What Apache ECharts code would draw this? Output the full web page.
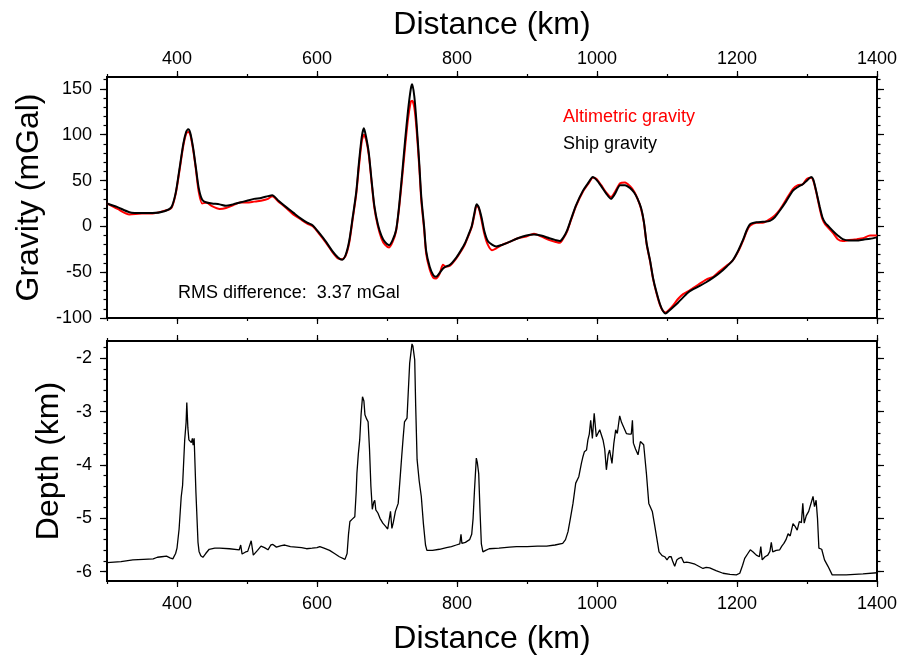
<!DOCTYPE html>
<html>
<head>
<meta charset="utf-8">
<title>Gravity and depth profile</title>
<script src="https://cdn.jsdelivr.net/npm/echarts@6/dist/echarts.min.js"></script>
<style>
  html, body { margin: 0; padding: 0; background: #fff; }
  #chart { width: 900px; height: 657px; }
</style>
</head>
<body>
<div id="chart"></div>
<script>
// Distance along the track (km) at which the gravity profiles are sampled
const gravityKm = [
  300, 315, 332, 350, 365, 382, 392, 398, 403, 409, 413, 416, 419, 423, 427, 431, 436, 442, 450, 461,
  470, 480, 490, 500, 510, 520, 530, 536, 545, 556, 566, 576, 586, 594, 604, 613, 622, 630, 636, 641,
  646, 651, 656, 660, 664, 667, 670, 674, 678, 682, 687, 692, 697, 703, 708, 713, 717, 721, 726, 730,
  734, 736, 739, 742, 746, 749, 753, 756, 761, 766, 770, 775, 780, 784, 790, 799, 805, 811, 817, 821,
  825, 828, 831, 835, 839, 844, 850, 856, 865, 875, 887, 899, 910, 920, 932, 941, 947, 952, 957, 963,
  970, 980, 988, 994, 999, 1006, 1013, 1020, 1026, 1033, 1040, 1047, 1053, 1058, 1063, 1067, 1071, 1076, 1080, 1085,
  1090, 1094, 1098, 1103, 1109, 1116, 1123, 1132, 1144, 1156, 1166, 1175, 1185, 1194, 1202, 1209, 1214, 1219, 1228, 1237,
  1247, 1254, 1261, 1270, 1280, 1287, 1294, 1300, 1306, 1309, 1313, 1318, 1322, 1326, 1331, 1337, 1344, 1351, 1360, 1371,
  1380, 1390, 1400
];

// Ship gravity (mGal)
const shipGravity = [
  25, 21, 15.5, 14.5, 14.5, 16.5, 21, 36, 60, 90, 103, 106, 102, 86, 64, 42, 29, 26, 25, 24,
  22.5, 24, 26, 28, 30, 31, 33, 34, 28, 21, 15, 9, 4, 1, -8, -17, -27, -34, -36.5, -31,
  -16, 10, 37, 70, 98, 107, 98, 80, 50, 22, 2, -10, -17, -20.5, -15, -4, 20, 52, 95, 126,
  150, 155, 142, 115, 70, 32, 0, -27, -44, -53, -55, -51, -46, -44, -42, -34, -27, -19, -8, 0,
  15, 24, 21, 10, -5, -16, -20, -22, -20, -17, -13, -10, -9, -10, -13, -15, -16, -12, -5, 8,
  23, 39, 48, 54, 51, 44, 36, 30, 36, 45, 45, 42, 37, 30, 20, 5, -19, -38, -56, -72,
  -85, -92, -95, -92, -88, -83, -77.5, -71, -66, -61, -56, -51, -44, -37, -26, -14, -4, 2.5, 4.5, 5,
  6, 10, 17, 27, 39, 43, 46, 50, 54, 51, 39, 22, 10, 4, 0, -5, -10, -14, -15.5, -15.5,
  -14.5, -13.5, -12
];

// Altimetric (satellite-derived) gravity (mGal)
const altimetricGravity = [
  25, 19, 13, 14, 14, 17, 20, 35, 58, 88, 101, 103, 100, 84, 62, 38, 25, 26, 22, 19,
  20, 23, 26, 26, 27, 28, 30, 33, 27, 20, 13, 8, 3, 0, -9, -18, -28, -35, -36, -32,
  -18, 8, 35, 66, 93, 100, 95, 78, 48, 20, 0, -13, -20, -23, -17, -5, 18, 48, 88, 117,
  136, 137, 130, 108, 66, 28, -3, -30, -47, -56, -57, -52, -42, -44, -43, -35, -28, -20, -9, -1,
  13, 23, 20, 7, -8, -20, -26, -24, -20, -17, -13, -11, -8, -11, -15, -17, -18, -13, -6, 7,
  22, 38, 47, 53, 52, 45, 37, 32, 38, 47, 48, 44, 38, 30, 19, 4, -20, -39, -57, -73,
  -86, -92, -94, -91, -86, -79, -74, -70, -64, -58, -55, -49, -43, -37, -27, -15, -5, 1, 4, 4,
  8, 12, 18, 29, 41, 45, 46, 52, 53, 50, 38, 20, 8, 2, -2, -7, -14, -16, -15, -14,
  -13, -10, -10
];

// Bathymetry along the same track
const depthKm = [
  300, 320, 337, 352, 366, 372, 378, 385, 390, 394, 398, 400, 403, 406, 408, 411, 413, 414, 415.5, 417,
  419, 420.5, 422, 423, 424.5, 427, 430, 431.5, 434, 437, 441, 446, 454, 461, 475, 489, 491, 493, 498, 501,
  506, 509, 515, 520, 525, 530, 534, 537, 542, 549, 554, 562, 570, 578, 585, 593, 600, 604, 610, 618,
  625, 632, 640, 643, 645, 647, 650, 654, 656, 657, 659, 661, 663, 665, 667, 668.5, 671, 673, 675, 677,
  679, 681, 682.5, 684, 687, 690, 694, 698, 701, 703, 705, 707, 709, 712, 716, 719, 721, 723, 725, 728.6,
  730.5, 732.4, 735.7, 737, 739.6, 741, 743, 746, 749, 752, 755, 757, 765, 775, 785, 792, 799, 804, 805.7, 807,
  812, 818, 821, 823, 825, 827.6, 829, 831, 833, 834.8, 837, 841, 846, 860, 875, 885, 900, 915, 928, 940,
  951, 955, 958.6, 962, 965.7, 969.6, 974, 977.7, 980, 982, 985, 987, 989, 991, 993.4, 996, 999, 1003.9, 1008.6, 1011,
  1013.4, 1016, 1018, 1021.4, 1024, 1026.7, 1029, 1032.4, 1035, 1037, 1042, 1046, 1049, 1050.6, 1052, 1055, 1058.6, 1062, 1066.7, 1070.6,
  1074, 1079, 1082, 1085, 1088.6, 1093, 1096.7, 1100, 1103, 1106, 1108, 1111, 1114, 1117, 1120.6, 1124, 1128, 1132, 1140, 1151.4,
  1156, 1161, 1170, 1180, 1190, 1199, 1204, 1208, 1211, 1213, 1216, 1219, 1223, 1227.6, 1232, 1234, 1236, 1240, 1244, 1247,
  1249, 1251, 1256, 1261, 1264, 1267, 1270, 1273, 1276, 1280, 1283, 1286, 1289, 1292, 1294, 1296, 1299, 1302.4, 1305, 1308.6,
  1310.7, 1313, 1315, 1317, 1321, 1325, 1330, 1336, 1356, 1380, 1400
];

// Depth (km)
const depth = [
  -5.83, -5.81, -5.78, -5.77, -5.76, -5.73, -5.72, -5.71, -5.74, -5.76, -5.66, -5.56, -5.2, -4.6, -4.38, -3.53, -3.2, -2.83, -3.3, -3.53,
  -3.5, -3.58, -3.5, -3.63, -3.5, -4.5, -5.45, -5.62, -5.7, -5.73, -5.66, -5.58, -5.56, -5.56, -5.57, -5.59, -5.5, -5.67, -5.63, -5.62,
  -5.42, -5.69, -5.6, -5.52, -5.55, -5.59, -5.5, -5.49, -5.54, -5.51, -5.5, -5.53, -5.54, -5.55, -5.57, -5.56, -5.55, -5.53, -5.56, -5.6,
  -5.66, -5.72, -5.77, -5.66, -5.3, -5.06, -5.02, -4.97, -4.5, -4.16, -3.8, -3.53, -3.05, -2.72, -2.8, -3.06, -3.14, -3.19, -3.7, -4.4,
  -4.83, -4.7, -4.66, -4.84, -4.9, -5.0, -5.09, -5.15, -5.2, -5.19, -4.87, -5.19, -5.08, -4.87, -4.72, -4.2, -3.84, -3.5, -3.19, -3.12,
  -2.6, -2.09, -1.73, -1.77, -2.03, -2.9, -3.9, -4.3, -4.59, -5.1, -5.5, -5.6, -5.6, -5.58, -5.55, -5.53, -5.5, -5.48, -5.3, -5.47,
  -5.45, -5.4, -5.3, -5.0, -4.47, -3.87, -3.95, -4.16, -4.9, -5.48, -5.63, -5.6, -5.57, -5.56, -5.54, -5.53, -5.53, -5.52, -5.52, -5.5,
  -5.47, -5.4, -5.25, -5.0, -4.72, -4.34, -4.22, -3.97, -3.84, -3.75, -3.72, -3.53, -3.42, -3.16, -3.5, -3.03, -3.47, -3.34, -3.53, -3.7,
  -4.09, -3.8, -3.72, -3.97, -3.6, -3.34, -3.41, -3.08, -3.2, -3.22, -3.41, -3.42, -3.42, -3.16, -3.59, -3.7, -3.81, -3.56, -3.62, -4.16,
  -4.72, -4.87, -5.1, -5.34, -5.63, -5.7, -5.72, -5.78, -5.72, -5.72, -5.8, -5.9, -5.78, -5.75, -5.73, -5.83, -5.82, -5.83, -5.86, -5.94,
  -5.92, -5.93, -5.98, -6.03, -6.05, -6.06, -6.03, -5.88, -5.75, -5.78, -5.65, -5.59, -5.63, -5.69, -5.72, -5.53, -5.78, -5.72, -5.69, -5.62,
  -5.45, -5.63, -5.6, -5.59, -5.52, -5.47, -5.4, -5.29, -5.33, -5.1, -5.15, -5.22, -5.06, -5.08, -4.72, -5.09, -4.95, -4.87, -4.84, -4.59,
  -4.78, -4.66, -5.0, -5.56, -5.58, -5.78, -5.9, -6.06, -6.06, -6.04, -6.02
];

// Tick positions
const distanceLabels = [400, 600, 800, 1000, 1200, 1400];
const distanceMinor = [300, 400, 500, 600, 700, 800, 900, 1000, 1100, 1200, 1300, 1400];
const gravityTicks = [-100, -50, 0, 50, 100, 150];
const gravityMinor = [-100, -90, -80, -70, -60, -50, -40, -30, -20, -10, 0, 10, 20, 30, 40, 50, 60, 70, 80, 90, 100, 110, 120, 130, 140, 150, 160];
const depthTicks = [-6, -5, -4, -3, -2];
const depthMinor = [-6, -5.8, -5.6, -5.4, -5.2, -5, -4.8, -4.6, -4.4, -4.2, -4, -3.8, -3.6, -3.4, -3.2, -3, -2.8, -2.6, -2.4, -2.2, -2, -1.8];

const rmsText = 'RMS difference:  3.37 mGal';

const FONT = 'Liberation Sans, Arial, Helvetica, sans-serif';
const INK = '#000';

function pairs(xs, ys) {
  return xs.map((x, i) => [x, ys[i]]);
}

// An axis that only draws ticks (and optionally labels) at the given values
function tickAxis(base, values, len, withLabels) {
  return Object.assign({
    type: 'value',
    axisLine: { show: false, onZero: false },
    splitLine: { show: false },
    axisTick: {
      show: true, inside: false, length: len, customValues: values,
      lineStyle: { color: INK, width: 1.2 }
    },
    axisLabel: withLabels
      ? { show: true, customValues: values, color: INK, fontFamily: FONT, fontSize: 18, margin: 12,
          formatter: (v) => String(v) }
      : { show: false },
    axisPointer: { show: false }
  }, base);
}

const xBase = (grid, pos) => ({ gridIndex: grid, position: pos, min: 300, max: 1400 });
const gBase = (pos) => ({ gridIndex: 0, position: pos, min: -100, max: 163 });
const dBase = (pos) => ({ gridIndex: 1, position: pos, min: -6.175, max: -1.675 });

const xAxes = [
  // top panel, top edge (labelled)
  tickAxis(Object.assign(xBase(0, 'top'), {
    name: 'Distance (km)', nameLocation: 'middle', nameGap: 36,
    nameTextStyle: { color: INK, fontFamily: FONT, fontSize: 32 }
  }), distanceLabels, 6, true),
  tickAxis(xBase(0, 'top'), distanceMinor, 3, false),
  // top panel, bottom edge
  tickAxis(xBase(0, 'bottom'), distanceLabels, 6, false),
  tickAxis(xBase(0, 'bottom'), distanceMinor, 3, false),
  // bottom panel, top edge
  tickAxis(xBase(1, 'top'), distanceLabels, 6, false),
  tickAxis(xBase(1, 'top'), distanceMinor, 3, false),
  // bottom panel, bottom edge (labelled)
  tickAxis(Object.assign(xBase(1, 'bottom'), {
    name: 'Distance (km)', nameLocation: 'middle', nameGap: 42,
    nameTextStyle: { color: INK, fontFamily: FONT, fontSize: 32 }
  }), distanceLabels, 6, true),
  tickAxis(xBase(1, 'bottom'), distanceMinor, 3, false)
];
xAxes[0].axisLabel.margin = 9;
xAxes[6].axisLabel.margin = 14;

const yAxes = [
  tickAxis(Object.assign(gBase('left'), {
    name: 'Gravity (mGal)', nameLocation: 'middle', nameGap: 62,
    nameTextStyle: { color: INK, fontFamily: FONT, fontSize: 32 }
  }), gravityTicks, 7, true),
  tickAxis(gBase('left'), gravityMinor, 3.5, false),
  tickAxis(gBase('right'), gravityTicks, 7, false),
  tickAxis(gBase('right'), gravityMinor, 3.5, false),
  tickAxis(Object.assign(dBase('left'), {
    name: 'Depth (km)', nameLocation: 'middle', nameGap: 41,
    nameTextStyle: { color: INK, fontFamily: FONT, fontSize: 32 }
  }), depthTicks, 7, true),
  tickAxis(dBase('left'), depthMinor, 3.5, false),
  tickAxis(dBase('right'), depthTicks, 7, false),
  tickAxis(dBase('right'), depthMinor, 3.5, false)
];
yAxes[0].axisLabel.margin = 15;
yAxes[4].axisLabel.margin = 15;

const chart = echarts.init(document.getElementById('chart'), null, { renderer: 'canvas' });

chart.setOption({
  animation: false,
  backgroundColor: '#fff',
  textStyle: { fontFamily: FONT },
  grid: [
    { left: 107, right: 23, top: 77, height: 241, show: true, borderColor: INK, borderWidth: 2,
      backgroundColor: 'transparent', containLabel: false, outerBoundsMode: 'none' },
    { left: 107, right: 23, top: 341, height: 240, show: true, borderColor: INK, borderWidth: 2,
      backgroundColor: 'transparent', containLabel: false, outerBoundsMode: 'none' }
  ],
  xAxis: xAxes,
  yAxis: yAxes,
  legend: {
    data: [
      { name: 'Altimetric gravity', textStyle: { color: '#ff0000' } },
      { name: 'Ship gravity', textStyle: { color: INK } }
    ],
    icon: 'none',
    orient: 'vertical',
    left: 558,
    top: 108,
    padding: 0,
    itemWidth: 0,
    itemHeight: 18,
    itemGap: 9,
    selectedMode: false,
    textStyle: { fontFamily: FONT, fontSize: 18 }
  },
  graphic: [
    {
      type: 'text',
      left: 178,
      top: 284,
      style: { text: rmsText, fill: INK, font: '18px ' + FONT }
    }
  ],
  series: [
    {
      name: 'Altimetric gravity',
      type: 'line',
      xAxisIndex: 0,
      yAxisIndex: 0,
      data: pairs(gravityKm, altimetricGravity),
      showSymbol: false,
      smooth: 0.25,
      lineStyle: { color: '#ff0000', width: 2 },
      itemStyle: { color: '#ff0000' },
      z: 2
    },
    {
      name: 'Ship gravity',
      type: 'line',
      xAxisIndex: 0,
      yAxisIndex: 0,
      data: pairs(gravityKm, shipGravity),
      showSymbol: false,
      smooth: 0.25,
      lineStyle: { color: INK, width: 2 },
      itemStyle: { color: INK },
      z: 3
    },
    {
      name: 'Depth',
      type: 'line',
      xAxisIndex: 6,
      yAxisIndex: 4,
      data: pairs(depthKm, depth),
      showSymbol: false,
      smooth: false,
      lineStyle: { color: INK, width: 1.3 },
      itemStyle: { color: INK },
      z: 3
    }
  ]
});
</script>
</body>
</html>
